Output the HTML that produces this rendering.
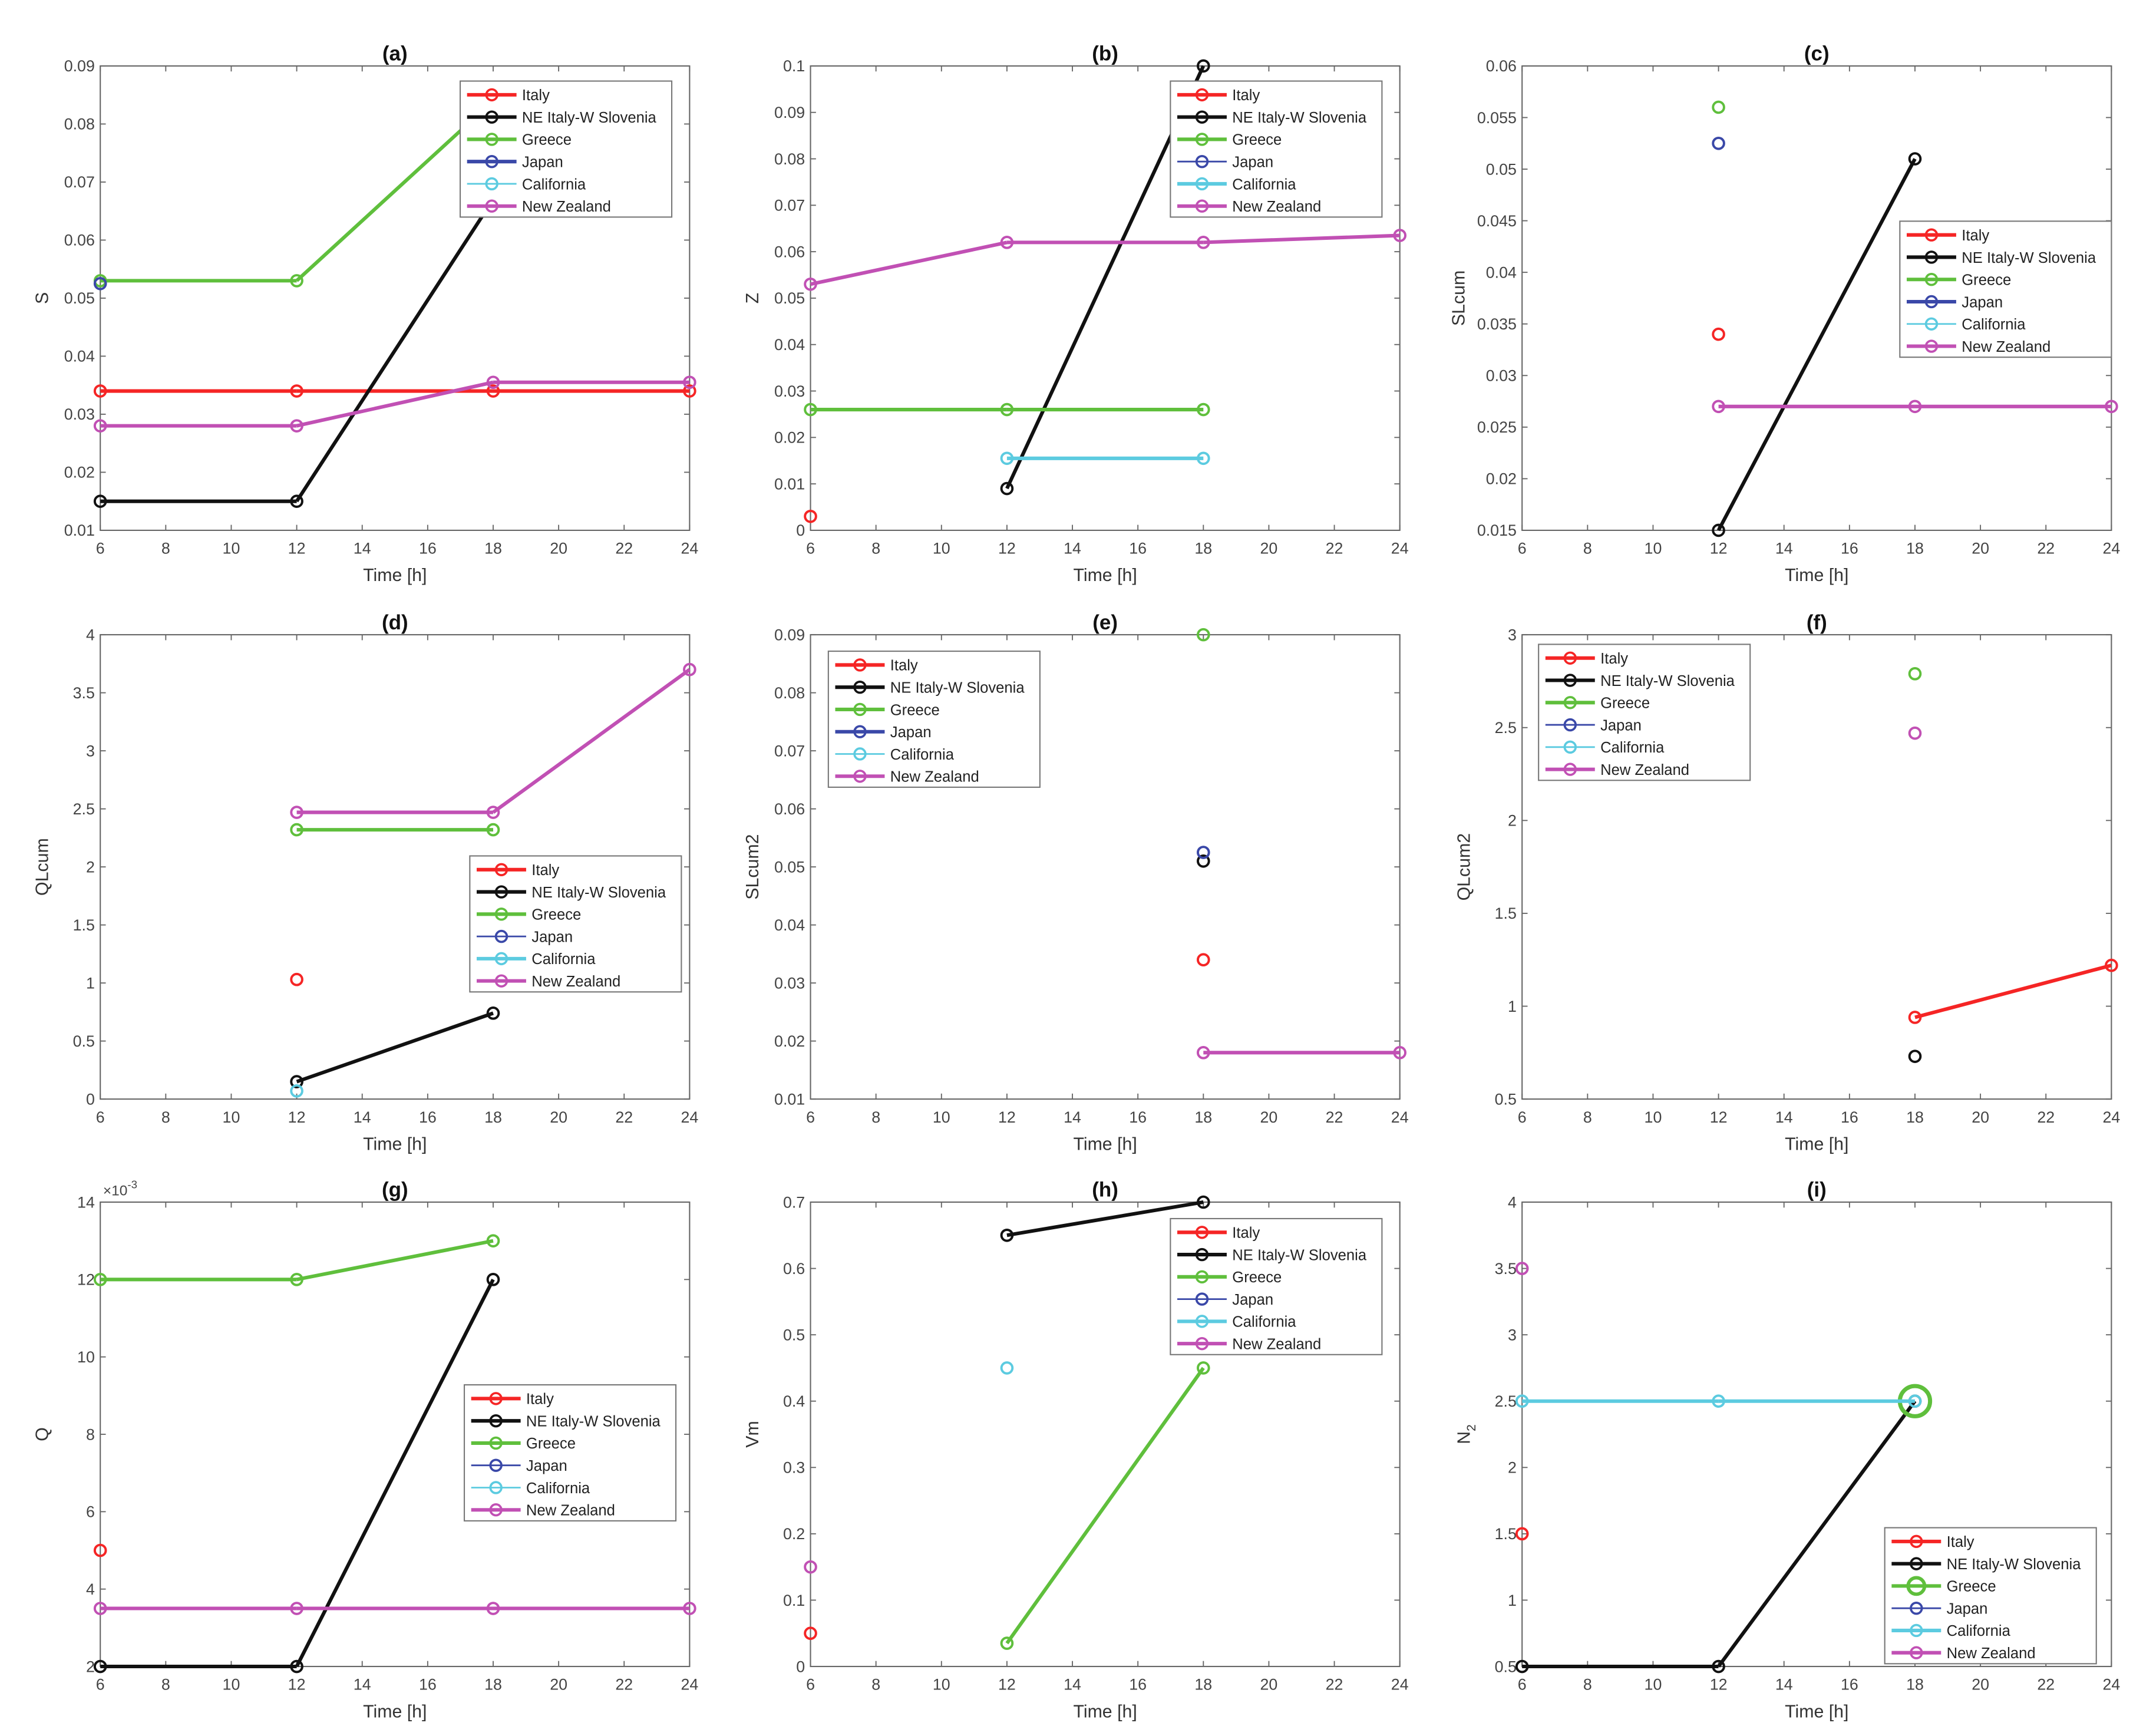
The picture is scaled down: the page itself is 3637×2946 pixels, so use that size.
<!DOCTYPE html>
<html><head><meta charset="utf-8"><style>
html,body{margin:0;padding:0;background:#fff}
svg{display:block}
text{font-family:"Liberation Sans",Arial,sans-serif}
</style></head><body>
<svg id="fig" xmlns="http://www.w3.org/2000/svg" width="3637" height="2946" viewBox="0 0 1560 1263.6"></svg>
<script>
// ---- data ----
const times = [6, 12, 18, 24];
const seriesNames = ["Italy", "NE Italy-W Slovenia", "Greece", "Japan", "California", "New Zealand"];
const xTickLabels = ["6","8","10","12","14","16","18","20","22","24"];
// (a) S
const aItaly = [0.034, 0.034, 0.034, 0.034];
const aNE = [0.015, 0.015, 0.067, null];
const aGreece = [0.053, 0.053, 0.084, null];
const aJapan = [0.0525, null, null, null];
const aCalifornia = [null, null, null, null];
const aNZ = [0.028, 0.028, 0.0355, 0.0355];
const aTicks = ["0.01","0.02","0.03","0.04","0.05","0.06","0.07","0.08","0.09"];
// (b) Z
const bItaly = [0.003, null, null, null];
const bNE = [null, 0.009, 0.1, null];
const bGreece = [0.026, 0.026, 0.026, null];
const bJapan = [null, null, null, null];
const bCalifornia = [null, 0.0155, 0.0155, null];
const bNZ = [0.053, 0.062, 0.062, 0.0635];
const bTicks = ["0","0.01","0.02","0.03","0.04","0.05","0.06","0.07","0.08","0.09","0.1"];
// (c) SLcum
const cItaly = [null, 0.034, null, null];
const cNE = [null, 0.015, 0.051, null];
const cGreece = [null, 0.056, null, null];
const cJapan = [null, 0.0525, null, null];
const cCalifornia = [null, null, null, null];
const cNZ = [null, 0.027, 0.027, 0.027];
const cTicks = ["0.015","0.02","0.025","0.03","0.035","0.04","0.045","0.05","0.055","0.06"];
// (d) QLcum
const dItaly = [null, 1.03, null, null];
const dNE = [null, 0.15, 0.74, null];
const dGreece = [null, 2.32, 2.32, null];
const dJapan = [null, null, null, null];
const dCalifornia = [null, 0.07, null, null];
const dNZ = [null, 2.47, 2.47, 3.7];
const dTicks = ["0","0.5","1","1.5","2","2.5","3","3.5","4"];
// (e) SLcum2
const eItaly = [null, null, 0.034, null];
const eNE = [null, null, 0.051, null];
const eGreece = [null, null, 0.09, null];
const eJapan = [null, null, 0.0525, null];
const eCalifornia = [null, null, null, null];
const eNZ = [null, null, 0.018, 0.018];
const eTicks = ["0.01","0.02","0.03","0.04","0.05","0.06","0.07","0.08","0.09"];
// (f) QLcum2
const fItaly = [null, null, 0.94, 1.22];
const fNE = [null, null, 0.73, null];
const fGreece = [null, null, 2.79, null];
const fJapan = [null, null, null, null];
const fCalifornia = [null, null, null, null];
const fNZ = [null, null, 2.47, null];
const fTicks = ["0.5","1","1.5","2","2.5","3"];
// (g) Q (x10^-3)
const gItaly = [5, null, null, null];
const gNE = [2, 2, 12, null];
const gGreece = [12, 12, 13, null];
const gJapan = [null, null, null, null];
const gCalifornia = [null, null, null, null];
const gNZ = [3.5, 3.5, 3.5, 3.5];
const gTicks = ["2","4","6","8","10","12","14"];
// (h) Vm
const hItaly = [0.05, null, null, null];
const hNE = [null, 0.65, 0.70, null];
const hGreece = [null, 0.035, 0.45, null];
const hJapan = [null, null, null, null];
const hCalifornia = [null, 0.45, null, null];
const hNZ = [0.15, null, null, null];
const hTicks = ["0","0.1","0.2","0.3","0.4","0.5","0.6","0.7"];
// (i) N2
const iItaly = [1.5, null, null, null];
const iNE = [0.5, 0.5, 2.5, null];
const iGreece = [null, null, 2.5, null];
const iJapan = [null, null, null, null];
const iCalifornia = [2.5, 2.5, 2.5, null];
const iNZ = [3.5, null, null, null];
const iTicks = ["0.5","1","1.5","2","2.5","3","3.5","4"];

// ---- layout ----
const colors = ["#f52525", "#111111", "#5fbf3c", "#3a48a8", "#5ccbe0", "#c150b4"];
const NS = "http://www.w3.org/2000/svg";
const svg = document.getElementById("fig");
function el(tag, attrs, parent) {
  const e = document.createElementNS(NS, tag);
  for (const k in attrs) e.setAttribute(k, attrs[k]);
  (parent || svg).appendChild(e);
  return e;
}
const cols = [[73, 502], [590, 1019], [1108, 1537]];
const rows = [[48, 386], [462, 800], [875, 1213]];
const panels = [
  {id:"a", t:"(a)", yl:"S", c:0, r:0, d:[aItaly,aNE,aGreece,aJapan,aCalifornia,aNZ], ticks:aTicks, leg:[335,59], thick:[1,1,1,1,0,1]},
  {id:"b", t:"(b)", yl:"Z", c:1, r:0, d:[bItaly,bNE,bGreece,bJapan,bCalifornia,bNZ], ticks:bTicks, leg:[852,59], thick:[1,1,1,0,1,1]},
  {id:"c", t:"(c)", yl:"SLcum", c:2, r:0, d:[cItaly,cNE,cGreece,cJapan,cCalifornia,cNZ], ticks:cTicks, leg:[1383,161], thick:[1,1,1,1,0,1]},
  {id:"d", t:"(d)", yl:"QLcum", c:0, r:1, d:[dItaly,dNE,dGreece,dJapan,dCalifornia,dNZ], ticks:dTicks, leg:[342,623], thick:[1,1,1,0,1,1]},
  {id:"e", t:"(e)", yl:"SLcum2", c:1, r:1, d:[eItaly,eNE,eGreece,eJapan,eCalifornia,eNZ], ticks:eTicks, leg:[603,474], thick:[1,1,1,1,0,1]},
  {id:"f", t:"(f)", yl:"QLcum2", c:2, r:1, d:[fItaly,fNE,fGreece,fJapan,fCalifornia,fNZ], ticks:fTicks, leg:[1120,469], thick:[1,1,1,0,0,1]},
  {id:"g", t:"(g)", yl:"Q", c:0, r:2, d:[gItaly,gNE,gGreece,gJapan,gCalifornia,gNZ], ticks:gTicks, leg:[338,1008], thick:[1,1,1,0,0,1], exp:true},
  {id:"h", t:"(h)", yl:"Vm", c:1, r:2, d:[hItaly,hNE,hGreece,hJapan,hCalifornia,hNZ], ticks:hTicks, leg:[852,887], thick:[1,1,1,0,1,1]},
  {id:"i", t:"(i)", yl:"N2", c:2, r:2, d:[iItaly,iNE,iGreece,iJapan,iCalifornia,iNZ], ticks:iTicks, leg:[1372,1112], thick:[1,1,1,0,1,1], big:2},
];

panels.forEach(p => {
  const [x0, x1] = cols[p.c], [y0, y1] = rows[p.r];
  const yMin = parseFloat(p.ticks[0]), yMax = parseFloat(p.ticks[p.ticks.length-1]);
  const xs = v => x0 + (v - 6) / 18 * (x1 - x0);
  const ys = v => y1 - (v - yMin) / (yMax - yMin) * (y1 - y0);
  const g = el("g", {});
  
  
  const box = el("rect", {x:x0, y:y0, width:x1-x0, height:y1-y0, fill:"#fff", stroke:"#666", "stroke-width":0.9}, g);
  
  
  // x ticks
  xTickLabels.forEach(l => {
    const x = xs(parseFloat(l));
    el("line", {x1:x, x2:x, y1:y1, y2:y1-4, stroke:"#666", "stroke-width":0.8}, g);
    el("line", {x1:x, x2:x, y1:y0, y2:y0+4, stroke:"#666", "stroke-width":0.8}, g);
    const t = el("text", {x:x, y:y1+17, "font-size":11.5, fill:"#444", "text-anchor":"middle"}, g);
    t.textContent = l;
    
    
  });
  p.ticks.forEach(l => {
    const y = ys(parseFloat(l));
    el("line", {x1:x0, x2:x0+4, y1:y, y2:y, stroke:"#666", "stroke-width":0.8}, g);
    el("line", {x1:x1, x2:x1-4, y1:y, y2:y, stroke:"#666", "stroke-width":0.8}, g);
    const t = el("text", {x:x0-4, y:y+4, "font-size":11.5, fill:"#444", "text-anchor":"end"}, g);
    t.textContent = l;
    
    
  });
  const xt = el("text", {x:(x0+x1)/2, y:y1+37, "font-size":13, fill:"#333", "text-anchor":"middle"}, g);
  xt.textContent = "Time [h]";
  
  
  const yx = x0 - 38 - (p.ticks[0].length > 4 ? 4 : 0), yy = (y0+y1)/2;
  const yt = el("text", {x:yx, y:yy, "font-size":13, fill:"#333", "text-anchor":"middle", transform:`rotate(-90 ${yx} ${yy})`}, g);
  if (p.yl === "N2") { yt.textContent = "N"; const s = el("tspan", {"font-size":9, dy:4}, yt); s.textContent = "2"; }
  else yt.textContent = p.yl;
  
  
  const tt = el("text", {x:(x0+x1)/2, y:y0-4, "font-size":15, "font-weight":"bold", fill:"#111", "text-anchor":"middle"}, g);
  tt.textContent = p.t;
  
  
  if (p.exp) {
    const ex = el("text", {x:x0+2, y:y0-5, "font-size":10.5, fill:"#444"}, g);
    ex.textContent = "×10";
    const sp = el("tspan", {"font-size":8, dy:-5}, ex); sp.textContent = "-3";
    
    
  }
  // series
  p.d.forEach((vals, si) => {
    const sg = el("g", {}, g);
    
    
    const lw = p.thick[si] ? 2.6 : 1.2;
    for (let k = 0; k < vals.length - 1; k++) {
      if (vals[k] != null && vals[k+1] != null) {
        const ln = el("line", {x1:xs(times[k]), y1:ys(vals[k]), x2:xs(times[k+1]), y2:ys(vals[k+1]), stroke:colors[si], "stroke-width":lw}, sg);
        
        
      }
    }
    vals.forEach((v, k) => {
      if (v == null) return;
      const r = (p.big === si) ? 11 : 4;
      const c = el("circle", {cx:xs(times[k]), cy:ys(v), r:r, fill:"none", stroke:colors[si], "stroke-width":(p.big===si)?3:1.7}, sg);
      
      
    });
  });
  // legend
  const [lx, ly] = p.leg;
  const lg = el("g", {}, g);
  
  
  el("rect", {x:lx, y:ly, width:154, height:99, fill:"#fff", stroke:"#777", "stroke-width":0.9}, lg);
  seriesNames.forEach((n, si) => {
    const y = ly + 10 + si * 16.2;
    const e = el("g", {}, lg);
    
    
    const lw = p.thick[si] ? 2.6 : 1.2;
    el("line", {x1:lx+5, x2:lx+41, y1:y, y2:y, stroke:colors[si], "stroke-width":lw}, e);
    el("circle", {cx:lx+23, cy:y, r:(p.big===si)?6:4, fill:"none", stroke:colors[si], "stroke-width":(p.big===si)?2.5:1.6}, e);
    const t = el("text", {x:lx+45, y:y+4, "font-size":11, fill:"#222"}, e);
    t.textContent = n;
  });
});
</script>
</body></html>
